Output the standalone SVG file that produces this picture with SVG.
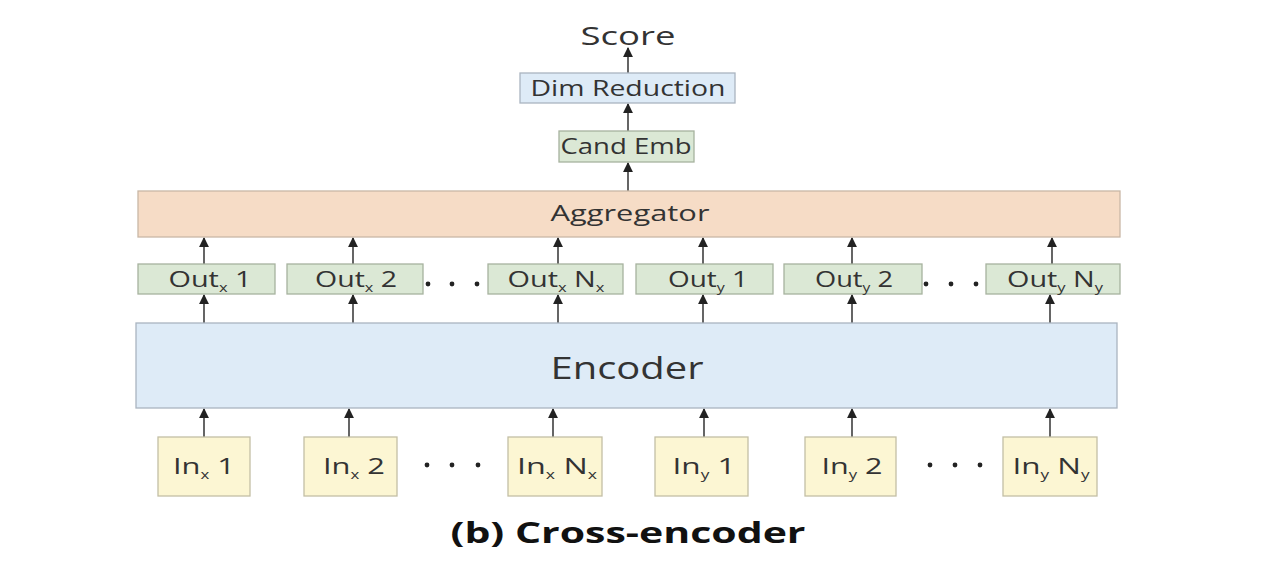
<svg xmlns="http://www.w3.org/2000/svg" width="1282" height="574" viewBox="0 0 1282 574">
<defs>
<marker id="ah" viewBox="0 0 10 10" refX="9" refY="5" markerWidth="5.5" markerHeight="5.5" orient="auto">
<path d="M0,0 L10,5 L0,10 z" fill="#222"/>
</marker>
<style>
text{font-family:"Open Sans","Noto Sans","DejaVu Sans",sans-serif;fill:#333}
.blue{fill:#deebf7;stroke:#aab4c0;stroke-width:1.3}
.green{fill:#dbe8d5;stroke:#a7b29f;stroke-width:1.3}
.peach{fill:#f6dcc6;stroke:#c9b7a6;stroke-width:1.3}
.yellow{fill:#fcf6d3;stroke:#c3bfa5;stroke-width:1.3}
.lbl{font-size:21px;text-anchor:middle}
.in{font-size:22px;text-anchor:middle}
.sub{font-size:12px}
.c line{stroke:#555;stroke-width:1.8;marker-end:url(#ah)}
.dot{fill:#222}
</style>
</defs>
<rect width="1282" height="574" fill="#fff"/>

<g class="c" id="connectors">
<line x1="628" y1="73" x2="628" y2="48"/>
<line x1="628" y1="131" x2="628" y2="104"/>
<line x1="628" y1="191" x2="628" y2="163"/>
<line x1="204" y1="264" x2="204" y2="238"/>
<line x1="353" y1="264" x2="353" y2="238"/>
<line x1="558" y1="264" x2="558" y2="238"/>
<line x1="703" y1="264" x2="703" y2="238"/>
<line x1="852" y1="264" x2="852" y2="238"/>
<line x1="1052" y1="264" x2="1052" y2="238"/>
<line x1="204" y1="323" x2="204" y2="295"/>
<line x1="353" y1="323" x2="353" y2="295"/>
<line x1="558" y1="323" x2="558" y2="295"/>
<line x1="703" y1="323" x2="703" y2="295"/>
<line x1="852" y1="323" x2="852" y2="295"/>
<line x1="1050" y1="323" x2="1050" y2="295"/>
<line x1="204" y1="437" x2="204" y2="409"/>
<line x1="349" y1="437" x2="349" y2="409"/>
<line x1="553" y1="437" x2="553" y2="409"/>
<line x1="704" y1="437" x2="704" y2="409"/>
<line x1="852" y1="437" x2="852" y2="409"/>
<line x1="1050" y1="437" x2="1050" y2="409"/>
</g>

<g id="score"><text x="628" y="45" font-size="26" text-anchor="middle" textLength="95" lengthAdjust="spacingAndGlyphs">Score</text></g>

<g id="dimred"><rect class="blue" x="520" y="73" width="215" height="30"/><text class="lbl" x="628" y="96" textLength="195" lengthAdjust="spacingAndGlyphs">Dim Reduction</text></g>
<g id="candemb"><rect class="green" x="559" y="131" width="135" height="31"/><text class="lbl" x="626" y="154" textLength="131" lengthAdjust="spacingAndGlyphs">Cand Emb</text></g>
<g id="aggregator"><rect class="peach" x="138" y="191" width="982" height="46"/><text class="lbl" x="630" y="221" textLength="159" lengthAdjust="spacingAndGlyphs">Aggregator</text></g>

<g id="outx1"><rect class="green" x="138" y="264" width="137" height="30"/><text class="lbl" x="210" y="287" textLength="83" lengthAdjust="spacingAndGlyphs">Out<tspan class="sub" dy="5">x</tspan><tspan dy="-5"> 1</tspan></text></g>
<g id="outx2"><rect class="green" x="287" y="264" width="136" height="30"/><text class="lbl" x="356" y="287" textLength="82" lengthAdjust="spacingAndGlyphs">Out<tspan class="sub" dy="5">x</tspan><tspan dy="-5"> 2</tspan></text></g>
<g id="outxn"><rect class="green" x="488" y="264" width="135" height="30"/><text class="lbl" x="556" y="287" textLength="97" lengthAdjust="spacingAndGlyphs">Out<tspan class="sub" dy="5">x</tspan><tspan dy="-5"> N</tspan><tspan class="sub" dy="5">x</tspan></text></g>
<g id="outy1"><rect class="green" x="636" y="264" width="137" height="30"/><text class="lbl" x="708" y="287" textLength="80" lengthAdjust="spacingAndGlyphs">Out<tspan class="sub" dy="5">y</tspan><tspan dy="-5"> 1</tspan></text></g>
<g id="outy2"><rect class="green" x="784" y="264" width="138" height="30"/><text class="lbl" x="854" y="287" textLength="78" lengthAdjust="spacingAndGlyphs">Out<tspan class="sub" dy="5">y</tspan><tspan dy="-5"> 2</tspan></text></g>
<g id="outyn"><rect class="green" x="986" y="264" width="134" height="30"/><text class="lbl" x="1055" y="287" textLength="96" lengthAdjust="spacingAndGlyphs">Out<tspan class="sub" dy="5">y</tspan><tspan dy="-5"> N</tspan><tspan class="sub" dy="5">y</tspan></text></g>

<g id="dots-out">
<circle class="dot" cx="428" cy="284" r="2.4"/><circle class="dot" cx="452" cy="284" r="2.4"/><circle class="dot" cx="477" cy="284" r="2.4"/>
<circle class="dot" cx="926" cy="284" r="2.4"/><circle class="dot" cx="951" cy="284" r="2.4"/><circle class="dot" cx="976" cy="284" r="2.4"/>
</g>

<g id="encoder"><rect class="blue" x="136" y="323" width="981" height="85"/><text x="627" y="379" font-size="31" text-anchor="middle" textLength="153" lengthAdjust="spacingAndGlyphs">Encoder</text></g>

<g id="inx1"><rect class="yellow" x="158" y="437" width="92" height="59"/><text class="in" x="204" y="474" textLength="62" lengthAdjust="spacingAndGlyphs">In<tspan class="sub" dy="5">x</tspan><tspan dy="-5"> 1</tspan></text></g>
<g id="inx2"><rect class="yellow" x="304" y="437" width="93" height="59"/><text class="in" x="354" y="474" textLength="62" lengthAdjust="spacingAndGlyphs">In<tspan class="sub" dy="5">x</tspan><tspan dy="-5"> 2</tspan></text></g>
<g id="inxn"><rect class="yellow" x="508" y="437" width="94" height="59"/><text class="in" x="557" y="474" textLength="80" lengthAdjust="spacingAndGlyphs">In<tspan class="sub" dy="5">x</tspan><tspan dy="-5"> N</tspan><tspan class="sub" dy="5">x</tspan></text></g>
<g id="iny1"><rect class="yellow" x="655" y="437" width="93" height="59"/><text class="in" x="704" y="474" textLength="63" lengthAdjust="spacingAndGlyphs">In<tspan class="sub" dy="5">y</tspan><tspan dy="-5"> 1</tspan></text></g>
<g id="iny2"><rect class="yellow" x="805" y="437" width="91" height="59"/><text class="in" x="852" y="474" textLength="61" lengthAdjust="spacingAndGlyphs">In<tspan class="sub" dy="5">y</tspan><tspan dy="-5"> 2</tspan></text></g>
<g id="inyn"><rect class="yellow" x="1003" y="437" width="94" height="59"/><text class="in" x="1051" y="474" textLength="77" lengthAdjust="spacingAndGlyphs">In<tspan class="sub" dy="5">y</tspan><tspan dy="-5"> N</tspan><tspan class="sub" dy="5">y</tspan></text></g>

<g id="dots-in">
<circle class="dot" cx="427" cy="465" r="2.4"/><circle class="dot" cx="452" cy="465" r="2.4"/><circle class="dot" cx="478" cy="465" r="2.4"/>
<circle class="dot" cx="930" cy="465" r="2.4"/><circle class="dot" cx="955" cy="465" r="2.4"/><circle class="dot" cx="980" cy="465" r="2.4"/>
</g>

<g id="caption"><text x="628" y="543" font-size="28" font-weight="bold" text-anchor="middle" textLength="355" lengthAdjust="spacingAndGlyphs" style="fill:#111">(b) Cross-encoder</text></g>
</svg>
